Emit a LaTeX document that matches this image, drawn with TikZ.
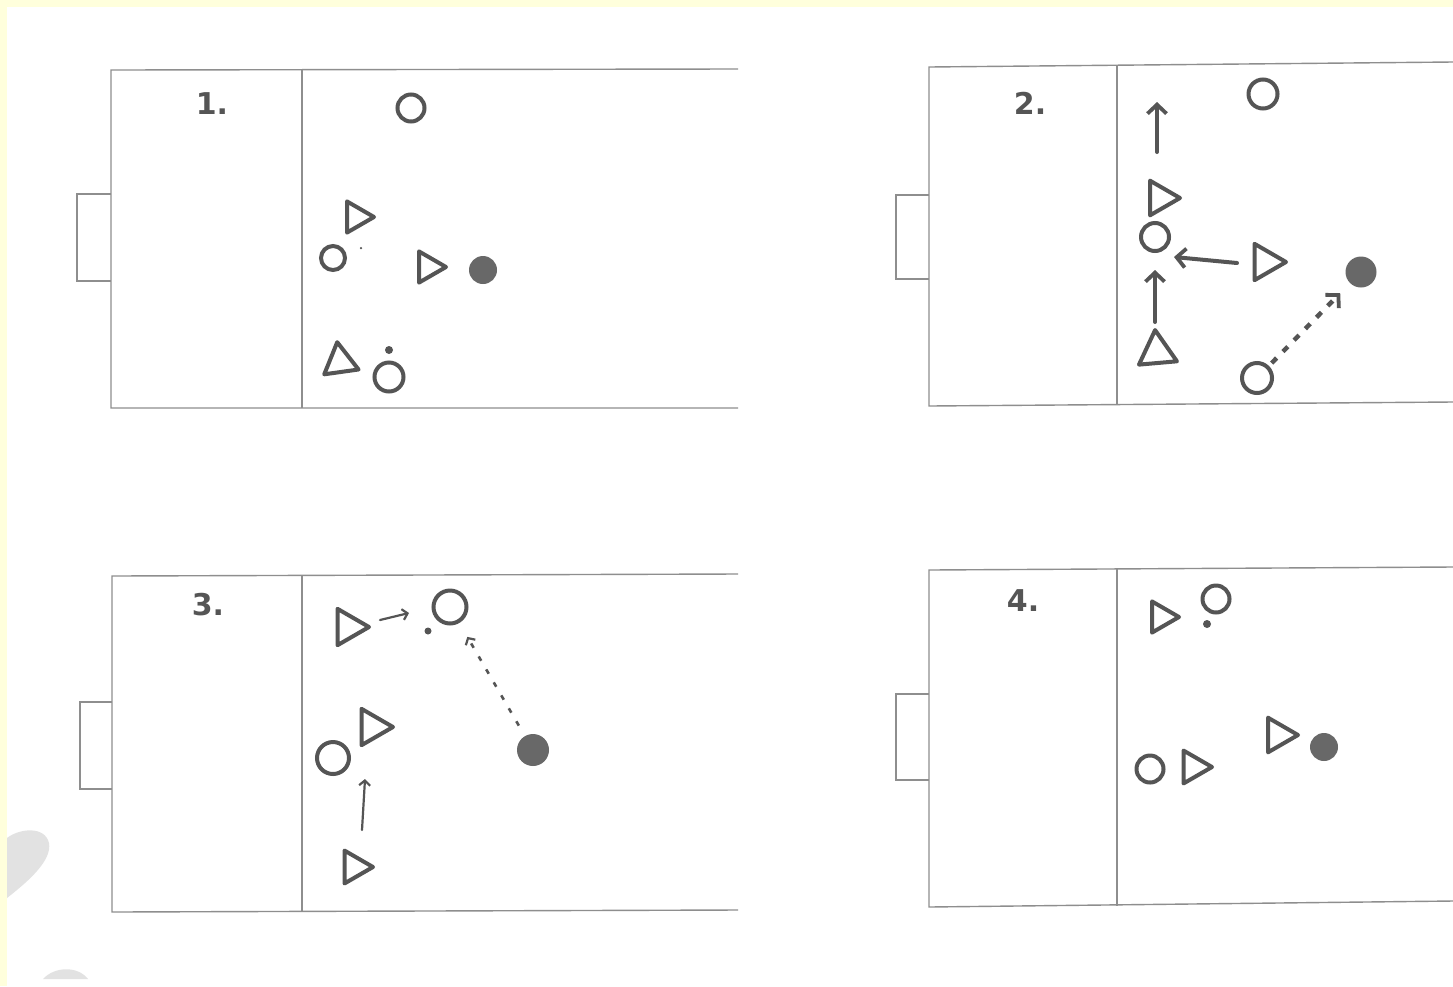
\documentclass[tikz,border=0pt]{standalone}
\usepackage{fontspec}
\setmainfont{DejaVu Sans}
\usetikzlibrary{shapes.geometric,arrows.meta}
\definecolor{frame}{HTML}{FFFFDC}
\definecolor{pitchc}{HTML}{8E8E8E}
\definecolor{ink}{HTML}{555555}
\definecolor{ballc}{HTML}{686868}
\definecolor{smudge}{HTML}{E2E2E2}
\tikzset{
  pitch/.style={draw=pitchc, line width=1.4pt},
  ply/.style={regular polygon, regular polygon sides=3, shape border rotate=-90, draw=ink, line width=4pt, inner sep=0pt, minimum size=#1, line join=round},
  plyup/.style={regular polygon, regular polygon sides=3, shape border rotate=#1, draw=ink, line width=4pt, inner sep=0pt, minimum size=40pt, line join=round},
  opp/.style={circle, draw=ink, line width=4pt, inner sep=0pt, minimum size=#1},
  ballst/.style={circle, fill=ballc, inner sep=0pt, minimum size=#1},
  dotst/.style={circle, fill=ink, inner sep=0pt, minimum size=#1},
  lbl/.style={text=ink, font=\fontsize{30}{30}\selectfont\bfseries, inner sep=0pt},
  mvthick/.style={draw=ink, line width=4pt, line cap=round, -{Straight Barb[length=9pt,width=19pt,line width=3.8pt]}},
  passthick/.style={draw=ink, line width=4.5pt, dash pattern=on 7pt off 9pt, -{Straight Barb[length=9pt,width=19pt,line width=3.8pt]}},
  mvthin/.style={draw=ink, line width=2.2pt, line cap=round, -{Straight Barb[length=5pt,width=11pt,line width=2.2pt]}},
  passthin/.style={draw=ink, line width=2.6pt, dash pattern=on 5pt off 10pt, -{Straight Barb[length=5pt,width=11pt,line width=2.2pt]}},
}
\begin{document}
\begin{tikzpicture}[x=1pt,y=-1pt]
\useasboundingbox (0,0) rectangle (1453,986);
\fill[frame] (0,0) rectangle (1453,986);
\fill[white] (7,7) rectangle (1453,986);
% scan smudges
\fill[smudge] (7,838) .. controls (20,828) and (45,826) .. (49,843) .. controls (52,860) and (30,880) .. (7,898) -- cycle;
\fill[smudge] (43,979) .. controls (55,966) and (78,966) .. (88,979) -- cycle;

% ---------- pitch 1 ----------
\draw[pitch] (738,69) -- (111,70) -- (111,408) -- (738,408);
\draw[pitch] (302,70) -- (302,408);
\draw[pitch] (111,194) -- (77,194) -- (77,281) -- (111,281);
\node[lbl] (l1) at (212,104) {1.};
\node[opp=27pt] (o1a) at (411,108) {};
\node[ply=36pt] (t1a) at (356,217) {};
\node[opp=24pt] (o1b) at (333,258) {};
\node[dotst=2.5pt] (d1a) at (361,248) {};
\node[ply=36pt] (t1b) at (428,267) {};
\node[ballst=28pt] (b1) at (483,270) {};
\node[plyup=8] (t1c) at (340,362) {};
\node[dotst=8pt] (d1b) at (389,350) {};
\node[opp=29pt] (o1c) at (389,377) {};

% ---------- pitch 2 ----------
\draw[pitch] (1453,62) -- (929,67) -- (929,406) -- (1453,402);
\draw[pitch] (1117,66) -- (1117,405);
\draw[pitch] (929,195) -- (896,195) -- (896,279) -- (929,279);
\node[lbl] (l2) at (1030,103) {2.};
\node[opp=29pt] (o2a) at (1263,94) {};
\node[ply=40pt] (t2a) at (1160,198) {};
\node[opp=28pt] (o2b) at (1155,237) {};
\node[ply=42pt] (t2b) at (1265,262) {};
\node[ballst=31pt] (b2) at (1361,272) {};
\node[plyup=5, minimum size=44pt] (t2c) at (1157,352) {};
\node[opp=30pt] (o2c) at (1257,378) {};
\coordinate (a2us) at (1157,152);
\coordinate (a2ue) at (1157,102);
\draw[mvthick] (a2us) -- (a2ue);
\coordinate (a2ls) at (1237,263);
\coordinate (a2le) at (1174,257);
\draw[mvthick] (a2ls) -- (a2le);
\coordinate (a2vs) at (1155,322);
\coordinate (a2ve) at (1155,270);
\draw[mvthick] (a2vs) -- (a2ve);
\draw[passthick, shorten <=4pt, shorten >=14pt] (o2c) -- (b2);

% ---------- pitch 3 ----------
\draw[pitch] (738,574) -- (112,576) -- (112,912) -- (738,910);
\draw[pitch] (302,576) -- (302,912);
\draw[pitch] (112,702) -- (80,702) -- (80,789) -- (112,789);
\node[lbl] (l3) at (208,605) {3.};
\node[ply=42pt] (t3a) at (348,627) {};
\node[dotst=7pt] (d3) at (428,631) {};
\node[opp=33pt] (o3a) at (450,607) {};
\node[ballst=32pt] (b3) at (533,750) {};
\node[ply=42pt] (t3b) at (372,727) {};
\node[opp=32pt] (o3b) at (333,758) {};
\node[ply=38pt] (t3c) at (354,867) {};
\coordinate (a3rs) at (380,620);
\coordinate (a3re) at (409,613);
\draw[mvthin] (a3rs) -- (a3re);
\coordinate (a3us) at (362,830);
\coordinate (a3ue) at (365,779);
\draw[mvthin] (a3us) -- (a3ue);
\draw[passthin, shorten <=12pt, shorten >=16pt] (b3) -- (o3a);

% ---------- pitch 4 ----------
\draw[pitch] (1453,567) -- (929,570) -- (929,907) -- (1453,901);
\draw[pitch] (1117,569) -- (1117,906);
\draw[pitch] (929,694) -- (896,694) -- (896,780) -- (929,780);
\node[lbl] (l4) at (1023,601) {4.};
\node[ply=36pt] (t4a) at (1161,617) {};
\node[opp=27pt] (o4a) at (1216,599) {};
\node[dotst=8pt] (d4) at (1207,624) {};
\node[ply=40pt] (t4b) at (1278,735) {};
\node[ballst=28pt] (b4) at (1324,747) {};
\node[opp=27pt] (o4b) at (1150,769) {};
\node[ply=38pt] (t4c) at (1193,767) {};
\end{tikzpicture}
\end{document}
